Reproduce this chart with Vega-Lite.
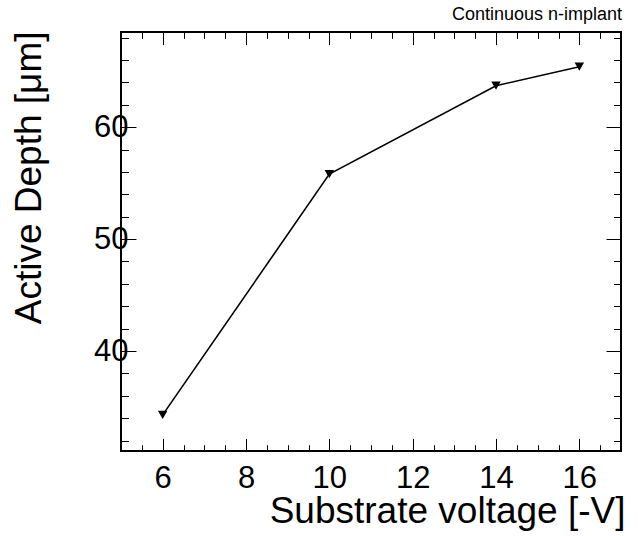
{
  "$schema": "https://vega.github.io/schema/vega-lite/v6.json",
  "autosize": {"type": "none"},
  "padding": {"left": 121, "top": 32, "right": 17, "bottom": 85},
  "width": 500,
  "height": 419,
  "background": "white",
  "config": {
    "font": "Liberation Sans",
    "view": {"stroke": "black", "strokeWidth": 2},
    "axis": {
      "domain": false,
      "grid": false,
      "tickColor": "black",
      "tickWidth": 1,
      "labelColor": "black",
      "titleColor": "black",
      "labelFont": "Liberation Sans",
      "titleFont": "Liberation Sans",
      "titleFontWeight": "normal"
    }
  },
  "title": {
    "text": "Continuous n-implant",
    "anchor": "end",
    "fontSize": 18,
    "fontWeight": "normal",
    "font": "Liberation Sans",
    "color": "black",
    "baseline": "alphabetic",
    "offset": 11,
    "dy": 18,
    "dx": -3
  },
  "data": {
    "values": [
      {"voltage": 6, "depth": 34.3},
      {"voltage": 10, "depth": 55.8},
      {"voltage": 14, "depth": 63.7},
      {"voltage": 16, "depth": 65.4}
    ]
  },
  "layer": [
    {
      "mark": {"type": "line", "color": "black", "strokeWidth": 1.6},
      "encoding": {
        "x": {
          "field": "voltage", "type": "quantitative",
          "scale": {"domain": [5, 17], "nice": false, "zero": false},
          "axis": {
            "orient": "bottom", "values": [6, 8, 10, 12, 14, 16],
            "tickSize": -12.6, "labelFontSize": 31, "labelPadding": 25,
            "labelBaseline": "top", "labelFlush": false,
            "title": "Substrate voltage [-V]", "titleFontSize": 37,
            "titleAnchor": "end", "titleAlign": "right", "titleBaseline": "alphabetic",
            "titleX": 504, "titleY": 71
          }
        },
        "y": {
          "field": "depth", "type": "quantitative",
          "scale": {"domain": [31.07, 68.5], "nice": false, "zero": false},
          "axis": {
            "orient": "left", "values": [40, 50, 60],
            "tickSize": -15, "labelFontSize": 31, "labelPadding": 8,
            "labelBaseline": "middle", "labelFlush": false,
            "title": "Active Depth [μm]", "titleFontSize": 37,
            "titleAnchor": "end", "titleAlign": "right", "titleAngle": -90,
            "titleBaseline": "alphabetic", "titleX": -81, "titleY": -1
          }
        }
      }
    },
    {
      "mark": {"type": "point", "shape": "triangle-down", "filled": true, "color": "black", "opacity": 1, "size": 90},
      "encoding": {
        "x": {
          "field": "voltage", "type": "quantitative",
          "scale": {"domain": [5, 17], "nice": false, "zero": false},
          "axis": {
            "orient": "bottom",
            "values": [5.5, 6.5, 7, 7.5, 8.5, 9, 9.5, 10.5, 11, 11.5, 12.5, 13, 13.5, 14.5, 15, 15.5, 16.5],
            "tickSize": -6.3, "labels": false, "title": null
          }
        },
        "y": {
          "field": "depth", "type": "quantitative",
          "scale": {"domain": [31.07, 68.5], "nice": false, "zero": false},
          "axis": {
            "orient": "left",
            "values": [32, 34, 36, 38, 42, 44, 46, 48, 52, 54, 56, 58, 62, 64, 66, 68],
            "tickSize": -7.5, "labels": false, "title": null
          }
        }
      }
    },
    {
      "mark": {"type": "point", "opacity": 0},
      "encoding": {
        "x": {
          "field": "voltage", "type": "quantitative",
          "scale": {"domain": [5, 17], "nice": false, "zero": false},
          "axis": {
            "orient": "top", "values": [6, 8, 10, 12, 14, 16],
            "tickSize": -12.6, "labels": false, "title": null
          }
        },
        "y": {
          "field": "depth", "type": "quantitative",
          "scale": {"domain": [31.07, 68.5], "nice": false, "zero": false},
          "axis": {
            "orient": "right", "values": [40, 50, 60],
            "tickSize": -15, "labels": false, "title": null
          }
        }
      }
    },
    {
      "mark": {"type": "point", "opacity": 0},
      "encoding": {
        "x": {
          "field": "voltage", "type": "quantitative",
          "scale": {"domain": [5, 17], "nice": false, "zero": false},
          "axis": {
            "orient": "top",
            "values": [5.5, 6.5, 7, 7.5, 8.5, 9, 9.5, 10.5, 11, 11.5, 12.5, 13, 13.5, 14.5, 15, 15.5, 16.5],
            "tickSize": -6.3, "labels": false, "title": null
          }
        },
        "y": {
          "field": "depth", "type": "quantitative",
          "scale": {"domain": [31.07, 68.5], "nice": false, "zero": false},
          "axis": {
            "orient": "right",
            "values": [32, 34, 36, 38, 42, 44, 46, 48, 52, 54, 56, 58, 62, 64, 66, 68],
            "tickSize": -7.5, "labels": false, "title": null
          }
        }
      }
    }
  ],
  "resolve": {"axis": {"x": "independent", "y": "independent"}}
}
